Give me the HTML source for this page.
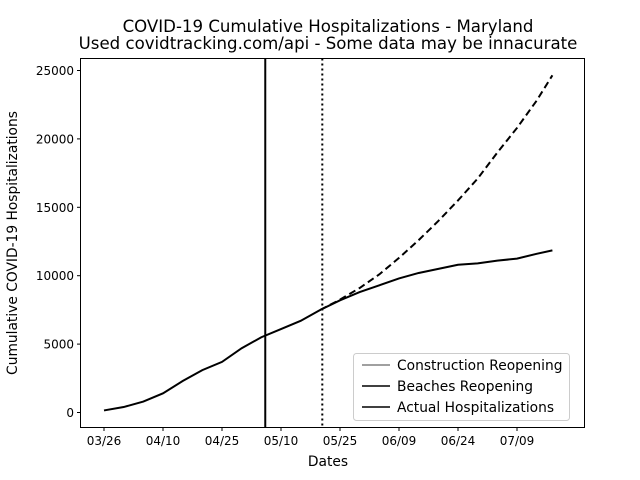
<!DOCTYPE html>
<html><head><meta charset="utf-8"><style>
body{margin:0;background:#fff;}
svg{display:block;font-family:"DejaVu Sans","Liberation Sans",sans-serif;}
</style></head><body>
<svg id="chart" width="640" height="480" xmlns="http://www.w3.org/2000/svg">
<rect width="640" height="480" fill="#fff"/>
<text x="328" y="32" text-anchor="middle" font-size="16.6">COVID-19 Cumulative Hospitalizations - Maryland</text>
<text x="328" y="49" text-anchor="middle" font-size="16.6">Used covidtracking.com/api - Some data may be innacurate</text>
<g id="ticks"></g>
<g id="marks"></g>
<rect x="80.5" y="58.5" width="504" height="369" fill="none" stroke="#000" stroke-width="1"/>
<text x="328" y="466" text-anchor="middle" font-size="13.8">Dates</text>
<text transform="translate(17,243) rotate(-90)" text-anchor="middle" font-size="13.8">Cumulative COVID-19 Hospitalizations</text>
<g>
<rect x="353.5" y="353.5" width="216" height="67" rx="3" fill="#fff" fill-opacity="0.8" stroke="#ccc"/>
<line x1="362" y1="365" x2="390" y2="365" stroke="#808080" stroke-width="1.5"/>
<text x="397" y="370" font-size="13.8">Construction Reopening</text>
<line x1="362" y1="386" x2="390" y2="386" stroke="#000" stroke-width="1.5"/>
<text x="397" y="391" font-size="13.8">Beaches Reopening</text>
<line x1="362" y1="407" x2="390" y2="407" stroke="#000" stroke-width="1.5"/>
<text x="397" y="412" font-size="13.8">Actual Hospitalizations</text>
</g>
</svg>
<script>
const xTickLabels=["03/26","04/10","04/25","05/10","05/25","06/09","06/24","07/09"];
const xTickDays=[0,15,30,45,60,75,90,105];
const yTicks=[0,5000,10000,15000,20000,25000];
const actualDays=[0,5,10,15,20,25,30,35,40,45,50,55,60,65,70,75,80,85,90,95,100,105,110,114];
const actualValues=[150,400,800,1400,2300,3100,3700,4700,5500,6100,6700,7500,8200,8800,9300,9800,10200,10500,10800,10900,11100,11250,11600,11850];
const projDays=[55,60,65,70,75,80,85,90,95,100,105,110,114];
const projValues=[7500,8250,9100,10100,11300,12600,14000,15500,17100,19000,20800,22800,24650];
const constructionDay=41;
const beachesDay=55.5;
const ns="http://www.w3.org/2000/svg";
const xs=d=>104+d*(59/15);
const ys=v=>412.5-v*(68.4/5000);
const tg=document.getElementById('ticks'),mg=document.getElementById('marks');
function mk(tag,attrs,parent){const e=document.createElementNS(ns,tag);for(const k in attrs)e.setAttribute(k,attrs[k]);parent.appendChild(e);return e;}
xTickDays.forEach((d,i)=>{
 const l=mk('line',{x1:xs(d),x2:xs(d),y1:427.5,y2:431,stroke:'#000'},tg);
 
 
 const t=mk('text',{x:xs(d),y:445,'text-anchor':'middle','font-size':12},tg);
 t.textContent=xTickLabels[i];
 
 
});
yTicks.forEach(v=>{
 const l=mk('line',{x1:77,x2:80.5,y1:ys(v),y2:ys(v),stroke:'#000'},tg);
 
 
 const t=mk('text',{x:74,y:ys(v)+4.5,'text-anchor':'end','font-size':12},tg);
 t.textContent=v;
 
 
});
const v1=mk('line',{x1:xs(constructionDay),x2:xs(constructionDay),y1:58.5,y2:427.5,stroke:'#000','stroke-width':2},mg);


const v2=mk('line',{x1:xs(beachesDay),x2:xs(beachesDay),y1:58.5,y2:427.5,stroke:'#000','stroke-width':2,'stroke-dasharray':'2,3'},mg);


const pp=mk('polyline',{points:projDays.map((d,i)=>xs(d)+','+ys(projValues[i])).join(' '),fill:'none',stroke:'#000','stroke-width':2,'stroke-dasharray':'7,4'},mg);


const ap=mk('polyline',{points:actualDays.map((d,i)=>xs(d)+','+ys(actualValues[i])).join(' '),fill:'none',stroke:'#000','stroke-width':2},mg);


</script>
</body></html>
